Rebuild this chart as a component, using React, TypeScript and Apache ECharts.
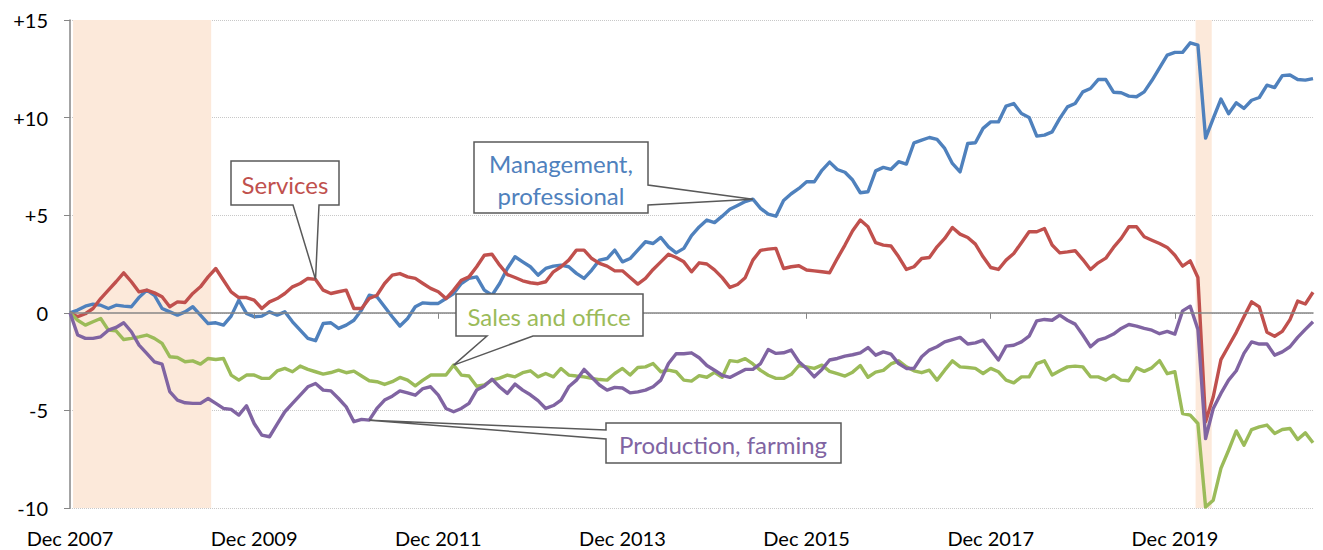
import React, { useEffect, useRef } from "react";
import * as echarts from "echarts";

const xTickMonths = [0, 24, 48, 72, 96, 120, 144];
const xTickLabels = ["Dec 2007", "Dec 2009", "Dec 2011", "Dec 2013", "Dec 2015", "Dec 2017", "Dec 2019"];
const yTickLabels = ["-10", "-5", "0", "+5", "+10", "+15"];
const recessions = [[0.4, 18.4], [146.7, 148.8]];

const management = [
  0, 0.14, 0.34, 0.44, 0.39, 0.22, 0.39, 0.34, 0.31, 0.79, 1.16, 0.9, 0.22, 0.05, -0.12, 0.05, 0.31, -0.12, -0.55, -0.51,
  -0.63, -0.17, 0.65, -0.03, -0.2, -0.17, 0.05, -0.12, 0.05, -0.46, -0.89, -1.31, -1.43, -0.55, -0.51, -0.8, -0.63, -0.38, 0.14, 0.9,
  0.82, 0.31, -0.2, -0.68, -0.29, 0.31, 0.51, 0.48, 0.48, 0.73, 0.99, 1.5, 1.76, 1.84, 1.16, 0.9, 1.5, 2.27, 2.87, 2.61,
  2.36, 1.93, 2.27, 2.39, 2.44, 2.36, 2.02, 1.76, 2.19, 2.7, 2.78, 3.21, 2.61, 2.78, 3.21, 3.64, 3.55, 3.86, 3.38, 3.07,
  3.3, 3.95, 4.4, 4.75, 4.62, 4.95, 5.3, 5.5, 5.7, 5.82, 5.35, 5.05, 4.95, 5.75, 6.1, 6.37, 6.71, 6.71, 7.3, 7.72,
  7.34, 7.2, 6.8, 6.15, 6.2, 7.27, 7.45, 7.35, 7.74, 7.62, 8.71, 8.85, 8.98, 8.88, 8.42, 7.65, 7.22, 8.67, 8.71, 9.45,
  9.78, 9.78, 10.59, 10.72, 10.21, 10.01, 9.05, 9.1, 9.27, 9.96, 10.55, 10.72, 11.32, 11.49, 11.95, 11.95, 11.3, 11.27, 11.1, 11.07,
  11.32, 11.9, 12.55, 13.2, 13.34, 13.34, 13.83, 13.71, 8.95, 9.96, 10.95, 10.2, 10.76, 10.47, 10.89, 11.03, 11.66, 11.54, 12.15, 12.18,
  11.95, 11.92, 12.0,
];

const services = [
  0, -0.2, -0.05, 0.22, 0.73, 1.16, 1.59, 2.05, 1.59, 1.07, 1.16, 1.02, 0.82, 0.31, 0.56, 0.53, 0.99, 1.33, 1.84, 2.27,
  1.67, 1.07, 0.78, 0.78, 0.65, 0.22, 0.56, 0.73, 0.99, 1.33, 1.5, 1.76, 1.71, 1.16, 0.99, 1.08, 1.16, 0.22, 0.22, 0.73,
  0.9, 1.5, 1.93, 2.01, 1.84, 1.76, 1.5, 1.25, 1.08, 0.73, 1.16, 1.67, 1.84, 2.36, 2.95, 3.0, 2.44, 1.96, 1.81, 1.64,
  1.54, 1.49, 1.59, 2.1, 2.36, 2.7, 3.21, 3.21, 2.78, 2.53, 2.39, 2.15, 2.15, 1.81, 1.47, 1.76, 2.22, 2.61, 3.0, 2.83,
  2.61, 2.1, 2.56, 2.5, 2.2, 1.8, 1.3, 1.45, 1.8, 2.7, 3.2, 3.26, 3.3, 2.27, 2.36, 2.41, 2.19, 2.15, 2.1, 2.05,
  2.78, 3.47, 4.2, 4.75, 4.41, 3.59, 3.47, 3.42, 2.87, 2.22, 2.36, 2.78, 2.83, 3.38, 3.81, 4.37, 4.03, 3.86, 3.52, 2.87,
  2.32, 2.22, 2.7, 3.04, 3.59, 4.15, 4.15, 4.32, 3.47, 3.07, 3.12, 3.18, 2.73, 2.22, 2.56, 2.8, 3.35, 3.81, 4.41, 4.41,
  3.9, 3.72, 3.55, 3.35, 2.95, 2.39, 2.66, 1.81, -5.58, -4.3, -2.4, -1.7, -1.0, -0.2, 0.56, 0.3, -1.0, -1.2, -0.95, -0.35,
  0.6, 0.45, 1.05,
];

const sales = [
  0, -0.38, -0.63, -0.46, -0.29, -0.89, -0.92, -1.37, -1.31, -1.23, -1.14, -1.31, -1.57, -2.25, -2.29, -2.51, -2.46, -2.63, -2.34, -2.39,
  -2.34, -3.19, -3.45, -3.19, -3.19, -3.36, -3.36, -2.98, -2.85, -3.02, -2.73, -2.9, -3.02, -3.14, -3.06, -2.94, -3.07, -2.99, -3.24, -3.48,
  -3.53, -3.67, -3.53, -3.31, -3.45, -3.74, -3.45, -3.19, -3.19, -3.19, -2.68, -3.19, -3.24, -3.76, -3.7, -3.45, -3.35, -3.19, -3.28, -3.07,
  -2.97, -3.28, -3.11, -3.28, -2.85, -3.19, -3.24, -3.28, -3.36, -3.42, -3.45, -3.11, -2.85, -3.19, -2.8, -2.77, -2.6, -3.02, -2.94, -3.02,
  -3.45, -3.5, -3.22, -3.3, -3.05, -3.3, -2.45, -2.5, -2.35, -2.62, -2.95, -3.2, -3.36, -3.36, -3.15, -2.7, -2.77, -2.85, -2.68, -3.0,
  -3.12, -3.24, -3.04, -2.7, -3.3, -3.04, -2.95, -2.62, -2.46, -2.77, -2.97, -3.07, -2.94, -3.45, -2.94, -2.46, -2.77, -2.8, -2.85, -3.11,
  -2.85, -3.02, -3.45, -3.59, -3.28, -3.28, -2.6, -2.46, -3.19, -2.97, -2.77, -2.73, -2.77, -3.28, -3.28, -3.45, -3.2, -3.45, -3.48, -2.82,
  -3.0, -2.82, -2.45, -3.12, -3.02, -5.16, -5.24, -5.67, -9.95, -9.6, -7.97, -7.04, -6.05, -6.78, -5.98, -5.84, -5.75, -6.18, -5.98, -5.93,
  -6.49, -6.15, -6.66,
];

const production = [
  0, -1.14, -1.31, -1.31, -1.23, -0.89, -0.75, -0.51, -0.97, -1.66, -2.08, -2.51, -2.63, -4.04, -4.47, -4.61, -4.64, -4.64, -4.39, -4.64,
  -4.9, -4.95, -5.24, -4.76, -5.67, -6.27, -6.35, -5.7, -5.07, -4.64, -4.22, -3.79, -3.62, -3.96, -4.0, -4.39, -4.82, -5.58, -5.46, -5.5,
  -4.9, -4.47, -4.27, -4.0, -4.1, -4.22, -3.88, -3.79, -4.22, -4.9, -5.07, -4.9, -4.64, -3.96, -3.75, -3.4, -3.8, -4.13, -3.65, -3.96,
  -4.2, -4.5, -4.9, -4.75, -4.47, -3.79, -3.45, -2.9, -3.3, -3.7, -3.96, -3.82, -3.85, -4.1, -4.05, -3.96, -3.79, -3.45, -2.6, -2.1,
  -2.1, -2.05, -2.3, -2.7, -2.94, -3.2, -3.31, -3.11, -2.9, -2.9, -2.6, -1.88, -2.08, -2.05, -1.91, -2.51, -2.85, -3.28, -2.9, -2.42,
  -2.34, -2.22, -2.15, -2.05, -1.78, -2.17, -2.0, -2.12, -2.6, -2.85, -2.85, -2.25, -1.91, -1.74, -1.49, -1.37, -1.26, -1.6, -1.54, -1.4,
  -1.91, -2.42, -1.71, -1.66, -1.49, -1.2, -0.41, -0.34, -0.38, -0.12, -0.38, -0.58, -1.14, -1.74, -1.4, -1.28, -1.09, -0.8, -0.6, -0.68,
  -0.8, -0.89, -1.07, -0.95, -1.09, 0.1, 0.34, -0.85, -6.44, -4.9, -4.13, -3.45, -2.97, -2.08, -1.49, -1.6, -1.6, -2.17, -2.0, -1.74,
  -1.26, -0.85, -0.46,
];

const BLUE = "#4F81BD";
const RED = "#C0504D";
const GREEN = "#9BBB59";
const PURPLE = "#8064A2";
const FONT = "Lato";

const toPairs = (arr: number[]) => arr.map((v, i) => [i, v]);

export default function App() {
  const ref = useRef<HTMLDivElement>(null);
  useEffect(() => {
    if (!ref.current) return;
    const chart = echarts.init(ref.current, undefined, { renderer: "svg" });
    const lineSeries = (name: string, data: number[], color: string) => ({
      name,
      type: "line",
      data: toPairs(data),
      showSymbol: false,
      symbol: "none",
      silent: true,
      z: 2,
      lineStyle: { width: 3.4, color, join: "round" },
      itemStyle: { color },
    });
    chart.setOption({
      animation: false,
      textStyle: { fontFamily: FONT },
      grid: { left: 70, right: 10, top: 20, bottom: 42 },
      xAxis: [
        {
          type: "value",
          min: 0,
          max: 162,
          interval: 24,
          axisLine: { show: false, onZero: false },
          axisTick: { show: false },
          splitLine: { show: false },
          axisLabel: {
            customValues: xTickMonths,
            formatter: (v: number) => {
              const k = xTickMonths.indexOf(v);
              return k >= 0 ? xTickLabels[k] : "";
            },
            fontSize: 20,
            color: "#000",
            fontFamily: FONT,
            margin: 20,
          },
        },
        {
          type: "value",
          min: 0,
          max: 162,
          interval: 24,
          position: "bottom",
          z: 3,
          axisLine: { show: true, onZero: true, lineStyle: { color: "#868686", width: 1.5 } },
          axisTick: {
            show: true,
            length: 6,
            customValues: xTickMonths.slice(1),
            lineStyle: { color: "#868686", width: 1 },
          },
          axisLabel: { show: false },
          splitLine: { show: false },
        },
      ],
      yAxis: {
        type: "value",
        min: -10,
        max: 15,
        interval: 5,
        axisLine: { show: true, onZero: false, lineStyle: { color: "#868686", width: 1.5 } },
        axisTick: { show: true, length: 6, lineStyle: { color: "#868686" } },
        axisLabel: {
          formatter: (v: number) => yTickLabels[Math.round((v + 10) / 5)] ?? "",
          fontSize: 20,
          color: "#000",
          fontFamily: FONT,
          margin: 22,
        },
        splitLine: { show: true, lineStyle: { type: "dotted", color: "#c8c8c8", width: 1 } },
      },
      series: [
        {
          type: "line",
          data: [],
          z: 1,
          silent: true,
          markArea: {
            silent: true,
            itemStyle: { color: "#FCE9DA" },
            data: recessions.map(([a, b]) => [{ xAxis: a }, { xAxis: b }]),
          },
        },
        lineSeries("Management, professional", management, BLUE),
        lineSeries("Services", services, RED),
        lineSeries("Sales and office", sales, GREEN),
        lineSeries("Production, farming", production, PURPLE),
      ],
    });

    const px = (arr: number[], i: number) =>
      chart.convertToPixel({ xAxisIndex: 0, yAxisIndex: 0 }, [i, arr[i]]) as number[];
    const sTip = px(services, 32);
    const mTip = px(management, 89);
    const gTip = px(sales, 50);
    const pTip = px(production, 39);
    const boxStyle = { fill: "#fff", stroke: "#595959", lineWidth: 1.5 };
    const txt = (x: number, y: number, text: string, fill: string) => ({
      type: "text",
      x,
      y,
      z: 11,
      silent: true,
      style: {
        text,
        fill,
        fontSize: 24,
        fontFamily: FONT,
        align: "center",
        verticalAlign: "middle",
        lineHeight: 32,
      },
    });
    chart.setOption({
      graphic: [
        {
          type: "polygon",
          z: 10,
          silent: true,
          shape: {
            points: [[231, 161], [339, 161], [339, 205], [319, 205], sTip, [293, 205], [231, 205]],
          },
          style: boxStyle,
        },
        txt(285, 184, "Services", RED),
        {
          type: "polygon",
          z: 10,
          silent: true,
          shape: {
            points: [[474, 142], [648, 142], [648, 185], mTip, [648, 205], [648, 213], [474, 213]],
          },
          style: boxStyle,
        },
        txt(561, 179, "Management,\nprofessional", BLUE),
        {
          type: "polygon",
          z: 10,
          silent: true,
          shape: {
            points: [[456, 294], [643, 294], [643, 336], [533, 336], gTip, [487, 336], [456, 336]],
          },
          style: boxStyle,
        },
        txt(549, 316, "Sales and office", GREEN),
        {
          type: "polygon",
          z: 10,
          silent: true,
          shape: {
            points: [[606, 423], [841, 423], [841, 463], [606, 463], [606, 439], pTip, [606, 430]],
          },
          style: boxStyle,
        },
        txt(723, 444, "Production, farming", PURPLE),
      ],
    });
    return () => chart.dispose();
  }, []);
  return (
    <div
      ref={ref}
      style={{ position: "fixed", left: 0, top: 0, width: 1323, height: 550, background: "#fff" }}
    />
  );
}
